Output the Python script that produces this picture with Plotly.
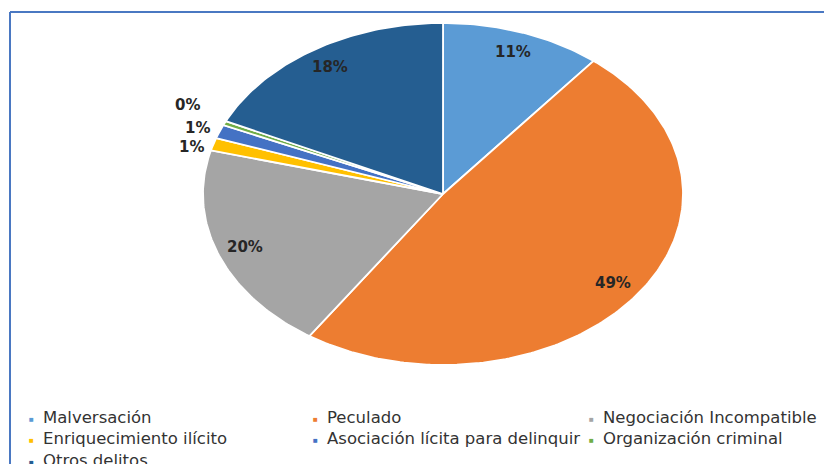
import numpy as np
import plotly.graph_objects as go

# ---- data ----
categories = ["Malversación", "Peculado", "Negociación Incompatible",
              "Enriquecimiento ilícito", "Asociación lícita para delinquir",
              "Organización criminal", "Otros delitos"]
values = [10.8, 48.6, 19.7, 1.2, 1.3, 0.4, 18.0]
colors = ["#5B9BD5", "#ED7D31", "#A5A5A5", "#FFC000", "#4472C4", "#70AD47", "#255E91"]

# page body has an 8px margin: work in screen pixels, convert to figure pixels
OFF = 8
W, H = 832 - OFF, 464 - OFF


def px(sx):
    return (sx - OFF) / W


def py(sy):
    return 1 - (sy - OFF) / H


# pie geometry (screen pixels) -> axes ranges so the unit circle becomes the stretched ellipse
CX, CY, RX, RY = 443 - OFF, 194 - OFF, 240, 171
xr = [(0 - CX) / RX, (W - CX) / RX]
yr = [(CY - H) / RY, CY / RY]

fig = go.Figure()
total = sum(values)
start = 0.0
mids = []
for name, v, c in zip(categories, values, colors):
    frac = v / total
    t0, t1 = start * 2 * np.pi, (start + frac) * 2 * np.pi
    n = max(4, int(400 * frac))
    th = np.linspace(t0, t1, n)
    xs = np.concatenate([[0], np.sin(th), [0]])
    ys = np.concatenate([[0], np.cos(th), [0]])
    fig.add_trace(go.Scatter(x=xs, y=ys, mode="lines", fill="toself", fillcolor=c,
                             line=dict(color="white", width=1.8), name=name,
                             showlegend=False, hoverinfo="name"))
    mids.append((start + frac / 2) * 2 * np.pi)
    start += frac

# data labels
inside_r = 0.88
outside_r = 1.1
# pixel nudges (right, down) for the small outside labels (Excel-style collision spreading)
nudge = {3: (1, 8), 4: (0, 3), 5: (-15, -11)}
lab_font = dict(family="DejaVu Sans", size=15, color="#262626")
for i, (v, m) in enumerate(zip(values, mids)):
    pct = f"{round(v / total * 100):.0f}%"
    r = inside_r if v / total >= 0.05 else outside_r
    dx, dy = nudge.get(i, (0, 0))
    fig.add_annotation(x=r * np.sin(m), y=r * np.cos(m), text=f"<b>{pct}</b>",
                       showarrow=False, font=lab_font, xanchor="center", yanchor="middle",
                       xshift=dx, yshift=-dy)

# legend (3 columns, manual)
col_text_x = [41, 325, 601]
row_y = [417, 438, 460]
leg_font = dict(family="DejaVu Sans", size=16.5, color="#333333")
for i, (name, c) in enumerate(zip(categories, colors)):
    col, row = i % 3, i // 3
    tx, ty = col_text_x[col], row_y[row]
    fig.add_annotation(xref="paper", yref="paper", x=px(tx - 10), y=py(ty + 1),
                       text="■", showarrow=False, font=dict(size=8, color=c),
                       xanchor="center", yanchor="middle")
    fig.add_annotation(xref="paper", yref="paper", x=px(tx), y=py(ty),
                       text=name, showarrow=False, font=leg_font,
                       xanchor="left", yanchor="middle")

shapes = [
    dict(type="line", xref="paper", yref="paper", x0=px(10), x1=1,
         y0=py(12), y1=py(12), line=dict(color="#4A78C2", width=2)),
    dict(type="line", xref="paper", yref="paper", x0=px(10), x1=px(10),
         y0=0, y1=py(12), line=dict(color="#4A78C2", width=2)),
]

fig.update_layout(
    width=W, height=H, margin=dict(l=0, r=0, t=0, b=0),
    paper_bgcolor="white", plot_bgcolor="white",
    xaxis=dict(range=xr, visible=False, fixedrange=True),
    yaxis=dict(range=yr, visible=False, fixedrange=True),
    shapes=shapes, showlegend=False,
)
fig.write_html("out.html")
